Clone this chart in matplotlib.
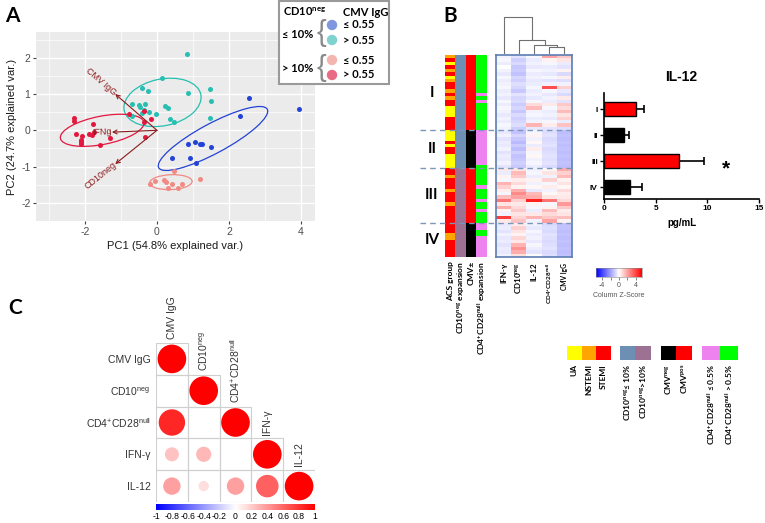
import numpy as np
import matplotlib
matplotlib.use("Agg")
import matplotlib.pyplot as plt
from matplotlib.patches import Ellipse, Rectangle, Circle
from matplotlib.colors import LinearSegmentedColormap, to_rgb

plt.rcParams['font.family'] = ['Liberation Sans', 'DejaVu Sans']
plt.rcParams['axes.unicode_minus'] = False
plt.rcParams['mathtext.fontset'] = 'custom'
plt.rcParams['mathtext.rm'] = 'Liberation Sans'
plt.rcParams['mathtext.bf'] = 'Lato:bold'
BOLD = ['Lato', 'DejaVu Sans']

# ---------------- A: PCA biplot ----------------
blue_x = [2.55, 3.95, 2.31, 0.85, 1.05, 1.20, 1.25, 1.51, 0.43, 0.93, 1.09]
blue_y = [0.88, 0.58, 0.40, -0.39, -0.31, -0.39, -0.38, -0.46, -0.76, -0.76, -0.89]
cyan_x = [0.83, 0.13, -0.42, -0.26, 0.86, 1.46, 1.50, 1.46, -0.68, -0.69, -0.51,
          -0.46, -0.42, -0.32, -0.23, -0.02, 0.22, 0.30, 0.37, 0.48, -0.37]
cyan_y = [2.11, 1.43, 1.18, 1.07, 1.04, 1.15, 0.82, 0.33, 0.73, 0.40, 0.71,
          0.65, 0.47, 0.73, 0.51, 0.45, 0.67, 0.61, 0.32, 0.22, 0.56]
salmon_x = [0.48, 1.19, -0.19, -0.05, 0.19, 0.24, 0.42, 0.32, 0.58, 0.69]
salmon_y = [-1.12, -1.35, -1.47, -1.40, -1.37, -1.43, -1.47, -1.59, -1.60, -1.49]
red_x = [-2.30, -2.30, -2.26, -2.09, -2.12, -2.10, -2.12, -1.88, -1.78, -1.76,
         -1.81, -1.59, -1.31, -0.78, -0.35, -0.37, -0.16, -0.32]
red_y = [0.33, 0.27, -0.10, -0.16, -0.27, -0.31, -0.38, -0.10, 0.18, -0.04,
         -0.13, -0.41, -0.21, 0.45, 0.52, 0.23, 0.32, -0.18]
pca_colors = ['#2342D6', '#27BFB1', '#F08A82', '#E3173F']
pca_leg_colors = ['#7E97DE', '#80D2CE', '#F5B5AF', '#EA6B84']
load_names = ['CMV IgG', 'IFNg', 'CD10neg']
load_x = [-1.16, -1.25, -1.16]
load_y = [1.00, -0.05, -0.93]

# ---------------- B: heatmap ----------------
group_names = ['I', 'II', 'III', 'IV']
acs_I = [1, 2, 0, 2, 1, 2, 0, 1, 2, 2, 1, 2, 1, 2, 2, 0, 0, 0, 2, 2, 2, 2]
acs_II = [0, 0, 0, 2, 0, 2, 2, 0, 0, 0, 0]
acs_III = [2, 2, 1, 2, 2, 2, 1, 2, 2, 2, 1, 2, 2, 2, 2, 2]
acs_IV = [2, 2, 2, 1, 1, 2, 2, 2, 2, 2]
cd4_I = [1, 1, 1, 1, 1, 1, 1, 1, 1, 1, 1, 0, 1, 0, 1, 1, 1, 1, 1, 1, 1, 1]
cd4_II = [0, 0, 0, 0, 0, 0, 0, 0, 0, 0, 1]
cd4_III = [1, 1, 1, 1, 1, 0, 1, 1, 1, 0, 1, 1, 0, 1, 1, 1]
cd4_IV = [0, 0, 1, 1, 0, 0, 0, 0, 0, 0]
group_cd10 = [0, 0, 1, 1]
group_cmv = [1, 0, 1, 0]
acs_colors = ['#FFFF00', '#FFA500', '#FF0000']
cd10_colors = ['#6E8FB4', '#9C7192']
cmv_colors = ['#000000', '#FF0000']
cd4_colors = ['#EE82EE', '#00FF00']

heat_cols = ['IFN-γ', 'CD10$^{\\mathbf{neg}}$', 'IL-12',
             'CD4$^{\\mathbf{+}}$CD28$^{\\mathbf{null}}$', 'CMV IgG']
heat_I = [[-0.3, -0.6, -0.2, 2.0, 1.2], [-0.2, -1.0, -0.4, 0.3, 0.6],
          [-0.4, -0.8, -0.3, -0.2, -0.4], [0.0, -1.2, -0.5, -0.4, -0.6],
          [-0.3, -1.1, -0.2, -0.3, 0.3], [-0.5, -1.3, -0.4, -0.5, -0.8],
          [-0.2, -0.9, -0.3, -0.2, 0.4], [-0.4, -1.0, -0.5, -0.6, -0.7],
          [-0.3, -0.7, -0.4, -0.3, -0.3], [-0.2, -0.9, -0.2, 3.8, 1.0],
          [-0.4, -1.2, -0.4, -0.2, -0.5], [-0.3, -0.6, -0.3, -0.5, -0.8],
          [-0.5, -0.9, -0.5, -0.3, 0.5], [-0.2, -0.8, -0.2, -0.4, -0.6],
          [-0.4, -1.1, 0.8, 0.5, 1.2], [-0.2, -0.9, 1.5, -0.2, 0.8],
          [-0.3, -1.2, -0.3, -0.4, 1.5], [-0.5, -0.8, -0.2, -0.3, 0.6],
          [-0.3, -1.0, -0.4, -0.5, 1.0], [-0.4, -0.9, -0.3, -0.2, -0.4],
          [-0.2, -0.7, 1.6, 0.4, 1.3], [-0.3, -1.1, -0.5, -0.6, -0.7]]
heat_II = [[-0.5, -1.3, -0.2, -0.7, -1.4], [-0.3, -0.9, 0.3, -0.6, -1.3],
           [-0.6, -1.2, -0.3, -0.8, -1.4], [-0.4, -1.5, 0.2, -0.7, -1.3],
           [-0.5, -1.1, -0.4, -0.6, -1.4], [-0.3, -1.4, 0.4, -0.8, -1.3],
           [-0.6, -1.0, -0.2, -0.7, -1.4], [-0.4, -1.3, 0.2, -0.6, -1.3],
           [-0.5, -1.2, -0.3, -0.7, -1.4], [-0.3, -1.0, -0.2, -0.6, -1.3],
           [-0.6, -1.2, -0.4, -0.8, -1.4]]
heat_III = [[0.5, 0.6, -0.3, 0.2, 1.8], [-0.4, 1.5, -0.2, 0.6, 1.0],
            [0.3, 1.2, -0.4, -0.3, 1.5], [-0.2, 0.4, 0.3, 1.0, 0.3],
            [1.6, 0.8, -0.3, -0.2, 0.6], [1.0, 0.3, 0.2, 0.4, 0.2],
            [0.4, 1.8, -0.5, -0.3, 0.8], [-0.2, 2.5, 1.5, 0.2, 0.4],
            [1.4, 2.0, 1.8, 0.6, 0.5], [3.0, 1.0, 4.8, 3.0, 0.8],
            [0.6, 0.5, 0.3, -0.2, 2.2], [1.8, 0.8, -0.2, 0.3, 1.2],
            [0.3, 1.2, -0.4, 1.5, 0.4], [-0.3, 0.6, 0.5, 0.8, 0.6],
            [4.2, 0.9, 1.6, 1.2, 1.4], [0.5, 1.3, -0.3, 2.0, 0.3]]
heat_IV = [[-0.5, 0.4, -0.3, -0.8, -1.3], [-0.4, 1.0, -0.5, -0.7, -1.3],
           [-0.6, 0.6, -0.2, -0.8, -1.4], [-0.3, 0.3, -0.4, -0.6, -1.3],
           [-0.5, 0.9, -0.3, -0.7, -1.4], [-0.4, 0.5, -0.5, -0.8, -1.3],
           [-0.6, 1.6, -0.2, -0.7, -1.4], [-0.4, 2.3, -0.4, -0.6, -1.3],
           [-0.5, 1.8, -0.6, -0.8, -1.4], [-0.3, 0.7, 0.1, -0.7, -1.3]]
# (left child, right child, height), scipy-style node numbering
dendro_merges = [(3, 4, 0.16), (2, 5, 0.22), (1, 6, 0.36), (0, 7, 1.0)]

# ---------------- B: IL-12 bars ----------------
il12_groups = ['I', 'II', 'III', 'IV']
il12_mean = [3.05, 1.95, 7.24, 2.56]
il12_sem = [0.80, 0.45, 2.40, 1.10]
il12_colors = ['#FF0000', '#000000', '#FF0000', '#000000']

# ---------------- C: correlation plot ----------------
corr_names = ['CMV IgG', 'CD10$^{\\mathrm{neg}}$', 'CD4$^{\\mathrm{+}}$CD28$^{\\mathrm{null}}$',
              'IFN-γ', 'IL-12']
corr_rows = [[1.00],
             [np.nan, 1.00],
             [0.85, np.nan, 1.00],
             [0.24, 0.28, np.nan, 1.00],
             [0.37, 0.13, 0.37, 0.62, 1.00]]

W, H = 765, 523
fig = plt.figure(figsize=(W / 100, H / 100), dpi=100)
fig.patch.set_facecolor('white')


def px_axes(x0, y0, x1, y1, **kw):
    return fig.add_axes([x0 / W, 1 - y1 / H, (x1 - x0) / W, (y1 - y0) / H], **kw)


bluered = LinearSegmentedColormap.from_list('bluered', ['#0000FF', '#FFFFFF', '#FF0000'])

# ---- panel A ----
axA = px_axes(36, 32, 315, 221)
axA.set_facecolor('#EBEBEB')
axA.set_xlim(-3.36, 4.39)
axA.set_ylim(-2.5, 2.71)
axA.set_xticks([-2, 0, 2, 4])
axA.set_xticks([-3, -1, 1, 3], minor=True)
axA.set_yticks([-2, -1, 0, 1, 2])
axA.set_yticks([-2.5, -1.5, -0.5, 0.5, 1.5, 2.5], minor=True)
axA.grid(which='major', color='white', lw=1.0)
axA.grid(which='minor', color='white', lw=0.5)
axA.set_axisbelow(True)
axA.tick_params(which='major', length=2.5, color='#444444', labelsize=7.5,
                labelcolor='#4D4D4D', pad=1.5)
axA.tick_params(which='minor', length=0)
for s in axA.spines.values():
    s.set_visible(False)

groups_xy = [(blue_x, blue_y), (cyan_x, cyan_y), (salmon_x, salmon_y), (red_x, red_y)]
for (gx, gy), col in zip(groups_xy, pca_colors):
    axA.scatter(gx, gy, s=13, color=col, linewidths=0, zorder=3)
    cov = np.cov(gx, gy)
    vals, vecs = np.linalg.eigh(cov)
    order = vals.argsort()[::-1]
    vals, vecs = vals[order], vecs[:, order]
    r = np.sqrt(2.279)  # 68% normal ellipse
    ang = np.degrees(np.arctan2(vecs[1, 0], vecs[0, 0]))
    axA.add_patch(Ellipse((np.mean(gx), np.mean(gy)), 2 * r * np.sqrt(vals[0]),
                          2 * r * np.sqrt(vals[1]), angle=ang, fill=False,
                          ec=col, lw=0.9, zorder=2))

for name, vx, vy in zip(load_names, load_x, load_y):
    axA.annotate('', xy=(vx, vy), xytext=(0, 0),
                 arrowprops=dict(arrowstyle='->', color='#8B1A1A', lw=0.8,
                                 shrinkA=0, shrinkB=0, mutation_scale=7), zorder=4)
    axA.text(vx, vy, name, rotation=np.degrees(np.arctan(vy / vx)),
             rotation_mode='anchor', ha='right', va='center', color='#8B1A1A',
             fontsize=6.5, zorder=4)

axA.set_xlabel('PC1 (54.8% explained var.)', fontsize=8, color='#1A1A1A', labelpad=3)
axA.set_ylabel('PC2 (24.7% explained var.)', fontsize=8, color='#1A1A1A', labelpad=3)

# ---- panel B: annotation columns + heatmap ----
sizes = [len(acs_I), len(acs_II), len(acs_III), len(acs_IV)]
acs = acs_I + acs_II + acs_III + acs_IV
cd4 = cd4_I + cd4_II + cd4_III + cd4_IV
cd10 = np.repeat(group_cd10, sizes)
cmv = np.repeat(group_cmv, sizes)
ann_rgb = np.array([[to_rgb(acs_colors[a]), to_rgb(cd10_colors[c]),
                     to_rgb(cmv_colors[m]), to_rgb(cd4_colors[d])]
                    for a, c, m, d in zip(acs, cd10, cmv, cd4)])
heat = np.array(heat_I + heat_II + heat_III + heat_IV)
n_rows = heat.shape[0]

hm_top, hm_bot = 55, 257
axAnn = px_axes(445, hm_top, 487, hm_bot)
axAnn.imshow(ann_rgb, aspect='auto', interpolation='nearest')
axAnn.set_yticks([])
axAnn.set_xticks(range(4))
axAnn.set_xticklabels(['ACS group', 'CD10$^{\\mathbf{neg}}$ expansion', 'CMV±',
                       'CD4$^{\\mathbf{+}}$CD28$^{\\mathbf{null}}$ expansion'],
                      rotation=90, fontsize=6, family=BOLD, fontweight='bold')
axAnn.tick_params(length=0, pad=3)
for s in axAnn.spines.values():
    s.set_visible(False)

axH = px_axes(496, hm_top, 572, hm_bot)
axH.imshow(heat, cmap=bluered, vmin=-5.5, vmax=5.5, aspect='auto',
           interpolation='nearest')
axH.set_yticks([])
axH.set_xticks(range(len(heat_cols)))
axH.set_xticklabels(heat_cols, rotation=90, family=BOLD, fontweight='bold')
for lab, fs in zip(axH.get_xticklabels(), [5.8, 5.8, 5.8, 4.6, 4.8]):
    lab.set_fontsize(fs)
axH.tick_params(length=0, pad=4)
for s in axH.spines.values():
    s.set_color('#5B7DB1')
    s.set_linewidth(1.2)

# dendrogram of the columns
axD = px_axes(496, 15, 572, hm_top)
axD.set_xlim(-0.5, len(heat_cols) - 0.5)
axD.set_ylim(-0.06, 1.05)
axD.axis('off')
node_pos = {i: (i, 0.0) for i in range(len(heat_cols))}
for k, (a, b, h) in enumerate(dendro_merges):
    xa, ya = node_pos[a]
    xb, yb = node_pos[b]
    axD.plot([xa, xa, xb, xb], [ya, h, h, yb], color='#707070', lw=0.8)
    node_pos[len(heat_cols) + k] = ((xa + xb) / 2, h)

# z-score key
axK = px_axes(596, 268, 642, 277)
axK.imshow(np.linspace(-5.5, 5.5, 256)[None, :], extent=(-5.5, 5.5, 0, 1),
           aspect='auto', cmap=bluered)
axK.set_yticks([])
axK.set_xticks([-4, -2, 0, 2, 4])
axK.set_xticklabels(['-4', '', '0', '', '4'])
axK.tick_params(length=2, width=0.5, labelsize=5, labelcolor='#555555',
                color='#555555', pad=1.5)
axK.set_xlabel('Column Z-Score', fontsize=5, color='#555555', labelpad=2)
for s in axK.spines.values():
    s.set_linewidth(0.4)
    s.set_color('#888888')

# IL-12 bar chart
axI = px_axes(604, 93, 759, 199)
ypos = np.arange(len(il12_groups))
axI.barh(ypos, il12_mean, height=0.54, color=il12_colors, edgecolor='black', lw=1)
ends = np.array(il12_mean) + np.array(il12_sem)
axI.hlines(ypos, il12_mean, ends, color='black', lw=1.2)
axI.vlines(ends, ypos - 0.16, ypos + 0.16, color='black', lw=1.2)
axI.text(11.8, 2.3, '*', fontsize=15, fontweight='bold', ha='center', va='center')
axI.set_xlim(0, 15)
axI.set_ylim(3.46, -0.62)
axI.set_xticks([0, 5, 10, 15])
axI.set_yticks(ypos)
axI.set_yticklabels(il12_groups)
axI.tick_params(length=3, width=1, labelsize=6, pad=1.5)
for lab in axI.get_xticklabels() + axI.get_yticklabels():
    lab.set_fontweight('bold')
axI.set_xlabel('pg/mL', fontsize=7, fontweight='bold', labelpad=4)
axI.spines['top'].set_visible(False)
axI.spines['right'].set_visible(False)
axI.spines['left'].set_linewidth(1.2)
axI.spines['bottom'].set_linewidth(1.2)

# ---- panel C: corrplot ----
n = len(corr_names)
axC = px_axes(156, 343, 315, 502)
axC.set_xlim(-0.5, n - 0.5)
axC.set_ylim(n - 0.5, -0.5)
for i, row in enumerate(corr_rows):
    for j, c in enumerate(row):
        axC.add_patch(Rectangle((j - 0.5, i - 0.5), 1, 1, fill=False,
                                ec='#CFCFCF', lw=0.8))
        if not np.isnan(c):
            axC.add_patch(Circle((j, i), 0.45 * np.sqrt(abs(c)),
                                 color=bluered((c + 1) / 2), lw=0))
for j, name in enumerate(corr_names):
    axC.text(j, j - 0.62, name, rotation=90, ha='center', va='bottom',
             fontsize=7.5, color='#333333')
axC.set_xticks([])
axC.set_yticks(range(n))
axC.set_yticklabels(corr_names, fontsize=7.5, color='#333333')
axC.tick_params(length=0, pad=4)
for s in axC.spines.values():
    s.set_visible(False)

axCB = px_axes(156, 504, 315, 510)
axCB.imshow(np.linspace(-1, 1, 256)[None, :], extent=(-1, 1, 0, 1),
            aspect='auto', cmap=bluered)
cb_ticks = np.round(np.arange(-1, 1.01, 0.2), 1)
axCB.set_xticks(cb_ticks)
axCB.set_xticklabels(['0' if t == 0 else f'{t:g}' for t in cb_ticks])
axCB.set_yticks([])
axCB.tick_params(length=0, labelsize=6.2, pad=1.5)
for s in axCB.spines.values():
    s.set_visible(False)

# ---- overlay: panel letters, legends, group marks ----
ov = fig.add_axes([0, 0, 1, 1], zorder=10)
ov.set_xlim(0, W)
ov.set_ylim(H, 0)
ov.axis('off')

for letter, (lx, ly) in zip('ABC', [(12, 16), (450, 16), (15, 308)]):
    ov.text(lx, ly, letter, fontsize=15, fontweight='bold', family=BOLD,
            ha='center', va='center')

# PCA legend
ov.add_patch(Rectangle((279.5, 0.5), 110, 83, fc='white', ec='#9A9A9A', lw=1.5))
ov.text(283, 12, 'CD10$^{\\mathbf{neg}}$', fontsize=8, fontweight='bold',
        family=BOLD, va='center')
ov.text(343, 12, 'CMV IgG', fontsize=8, fontweight='bold', family=BOLD, va='center')
leg_cd10 = ['≤ 10%', '> 10%']
leg_igg = ['≤ 0.55', '> 0.55']
for k, (lab, yc) in enumerate(zip(leg_cd10, [33, 68])):
    ov.text(282, yc + 1, lab, fontsize=8, fontweight='bold', family=BOLD, va='center')
    ov.text(321, yc, '{', fontsize=21, color='#8A8A8A', ha='center', va='center')
    for m, yy in enumerate([yc - 8, yc + 7]):
        ov.add_patch(Circle((332, yy), 5.2, color=pca_leg_colors[2 * k + m], lw=0))
        ov.text(343, yy, leg_igg[m], fontsize=8, fontweight='bold', family=BOLD,
                va='center')

# heatmap group separators and numerals
row_h = (hm_bot - hm_top) / n_rows
bounds = hm_top + np.cumsum(sizes) * row_h
for yb in bounds[:-1]:
    ov.plot([420, 573], [yb, yb], ls=(0, (4, 3)), color='#7B97BA', lw=1)
starts = np.concatenate([[0], np.cumsum(sizes)[:-1]])
for g, st, sz in zip(group_names, starts, sizes):
    ov.text(432, hm_top + (st + sz / 2) * row_h, g, fontsize=11, fontweight='bold',
            family=BOLD, ha='center', va='center')

ov.text(681, 77, 'IL-12', fontsize=10, fontweight='bold', ha='center', va='center')

# annotation colour key
leg_blocks = [(['UA', 'NSTEMI', 'STEMI'], acs_colors),
              (['CD10$^{\\mathbf{neg}}$≤ 10%', 'CD10$^{\\mathbf{neg}}$>10%'], cd10_colors),
              (['CMV$^{\\mathbf{neg}}$', 'CMV$^{\\mathbf{pos}}$'], cmv_colors),
              (['CD4$^{\\mathbf{+}}$CD28$^{\\mathbf{null}}$ ≤ 0.5%',
                'CD4$^{\\mathbf{+}}$CD28$^{\\mathbf{null}}$ > 0.5%'], cd4_colors)]
leg_x0 = [567, 620, 661, 702]
leg_w = [14.7, 15.5, 15.5, 18]
for (labels, cols), x0, w in zip(leg_blocks, leg_x0, leg_w):
    for k, (lab, col) in enumerate(zip(labels, cols)):
        ov.add_patch(Rectangle((x0 + k * w, 346), w, 14, color=col, lw=0))
        ov.text(x0 + (k + 0.5) * w, 364, lab, rotation=90, ha='center', va='top',
                fontsize=6, fontweight='bold', family=BOLD)

fig.savefig('out.png', dpi=100, facecolor='white')
